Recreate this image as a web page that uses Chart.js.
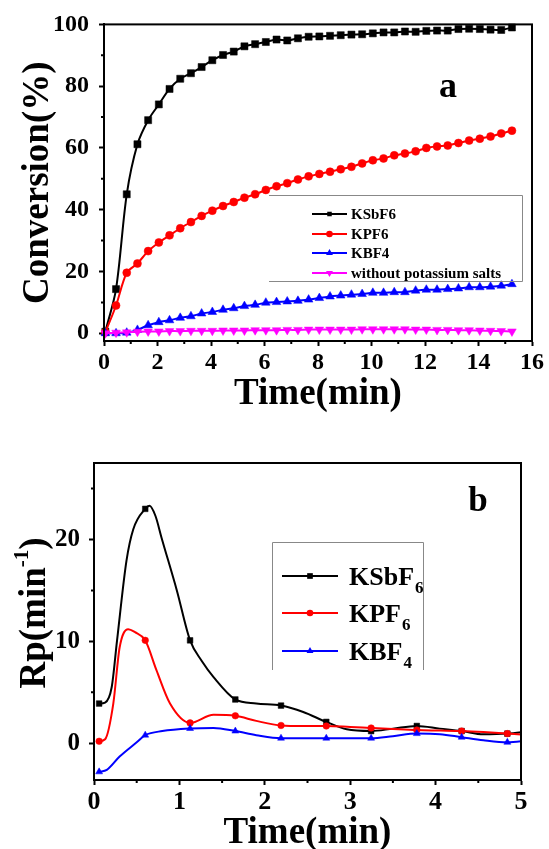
<!DOCTYPE html>
<html>
<head>
<meta charset="utf-8">
<script src="https://cdn.jsdelivr.net/npm/chart.js@4.4.1/dist/chart.umd.min.js"></script>
<style>
  body { margin: 0; background: #fff; }
  canvas { position: absolute; left: 0; }
  #graficoA { top: 0; }
  #graficoB { top: 430px; }
</style>
</head>
<body>
<canvas id="graficoA" width="549" height="430"></canvas>
<canvas id="graficoB" width="549" height="419"></canvas>
<script>
// Gráfico a: conversión (%) frente al tiempo (min)
const tiempoA = [0.05, 0.45, 0.85, 1.25, 1.65, 2.05, 2.45, 2.85, 3.25, 3.65, 4.05, 4.45, 4.85,
  5.25, 5.65, 6.05, 6.45, 6.85, 7.25, 7.65, 8.05, 8.45, 8.85, 9.25, 9.65, 10.05, 10.45, 10.85,
  11.25, 11.65, 12.05, 12.45, 12.85, 13.25, 13.65, 14.05, 14.45, 14.85, 15.25];
const convKSbF6 = [0.5, 14.3, 45, 61.2, 69, 74.1, 79.1, 82.4, 84.2, 86.2, 88.4, 90.1, 91.2,
  92.9, 93.6, 94.3, 95.1, 94.8, 95.5, 96, 96.1, 96.3, 96.5, 96.7, 96.8, 97.1, 97.4, 97.4,
  97.7, 97.6, 97.9, 98, 98, 98.5, 98.6, 98.5, 98.3, 98.2, 99.0];
const convKPF6 = [0.3, 9, 19.6, 22.6, 26.6, 29.4, 31.7, 34, 36, 38, 39.7, 41.2, 42.5,
  43.9, 45, 46.4, 47.6, 48.6, 49.8, 50.8, 51.6, 52.3, 53.1, 53.9, 55, 56, 56.6, 57.6,
  58.2, 58.9, 60, 60.5, 60.8, 61.6, 62.4, 63, 63.7, 64.7, 65.6];
const convKBF4 = [0, 0, 0.2, 1.1, 2.6, 3.6, 4.2, 5.0, 5.5, 6.4, 6.9, 7.6, 8.1,
  8.8, 9.2, 9.9, 10.1, 10.3, 10.5, 10.9, 11.4, 11.9, 12.2, 12.5, 12.7, 13.1, 13.1, 13.3,
  13.3, 13.8, 14.1, 14.1, 14.3, 14.5, 14.9, 14.9, 15.1, 15.4, 15.9];
const convSinSal = [0, 0.2, 0.3, 0.5, 0.6, 0.6, 0.7, 0.7, 0.8, 0.8, 0.8, 0.9, 0.9,
  0.9, 1.0, 1.0, 1.0, 1.1, 1.1, 1.2, 1.2, 1.2, 1.2, 1.2, 1.3, 1.3, 1.3, 1.3,
  1.3, 1.2, 1.2, 1.1, 1.1, 1.0, 1.0, 0.9, 0.8, 0.7, 0.6];
const ticksXA = [0, 2, 4, 6, 8, 10, 12, 14, 16];
const ticksYA = [0, 20, 40, 60, 80, 100];
const menoresXA = [1, 3, 5, 7, 9, 11, 13, 15];
const menoresYA = [10, 30, 50, 70, 90];
const leyendaA = ['KSbF6', 'KPF6', 'KBF4', 'without potassium salts'];

// Gráfico b: Rp (min-1) frente al tiempo (min), puntos medidos
const tiempoB = [0.06, 0.6, 1.125, 1.655, 2.19, 2.72, 3.245, 3.78, 4.305, 4.84];
const rpKSbF6 = [3.9, 23.0, 10.1, 4.3, 3.7, 2.1, 1.2, 1.7, 1.2, 0.95];
const rpKPF6 = [0.2, 10.1, 2.0, 2.7, 1.75, 1.7, 1.5, 1.3, 1.2, 0.95];
const rpKBF4 = [-2.8, 0.8, 1.45, 1.2, 0.5, 0.5, 0.5, 0.95, 0.6, 0.1];
// trazado de las curvas suavizadas
const curvaTKSbF6 = [0.06, 0.13, 0.207, 0.27, 0.38, 0.46, 0.6, 0.65, 0.72, 0.79, 0.97, 1.125, 1.26, 1.4,
  1.655, 1.9, 2.19, 2.45, 2.72, 2.96, 3.245, 3.5, 3.78, 4.05, 4.305, 4.56, 4.84, 5.1];
const curvaKSbF6 = [3.9, 4.0, 5.5, 10.1, 17.9, 21, 23.0, 23.3, 22.3, 20.2, 15, 10.1, 8.1, 6.5,
  4.3, 3.9, 3.7, 3.07, 2.1, 1.37, 1.2, 1.44, 1.7, 1.44, 1.2, 0.88, 0.95, 1.2];
const curvaTKPF6 = [0.06, 0.13, 0.226, 0.3, 0.4, 0.48, 0.6, 0.73, 0.89, 1.125, 1.4, 1.655, 1.9,
  2.19, 2.45, 2.72, 3.0, 3.245, 3.5, 3.78, 4.05, 4.305, 4.56, 4.84, 5.1];
const curvaKPF6 = [0.2, 0.4, 3.9, 9.4, 11.2, 10.9, 10.1, 7.2, 3.9, 2.0, 2.8, 2.7, 2.2,
  1.75, 1.7, 1.7, 1.6, 1.5, 1.4, 1.3, 1.25, 1.2, 1.1, 0.95, 0.8];
const curvaTKBF4 = [0.06, 0.15, 0.3, 0.5, 0.6, 0.8, 1.125, 1.4, 1.655, 1.9, 2.19, 2.45, 2.72,
  3.0, 3.245, 3.5, 3.78, 4.05, 4.305, 4.56, 4.84, 5.1];
const curvaKBF4 = [-2.8, -2.6, -1.3, 0.1, 0.8, 1.2, 1.45, 1.5, 1.2, 0.8, 0.5, 0.5, 0.5,
  0.5, 0.5, 0.7, 0.95, 0.9, 0.6, 0.3, 0.1, 0.3];
const ticksXB = [0, 1, 2, 3, 4, 5];
const ticksYB = [0, 10, 20];
const menoresXB = [0.5, 1.5, 2.5, 3.5, 4.5];
const menoresYB = [5, 15, 25];
const leyendaB = [['KSbF', '6'], ['KPF', '6'], ['KBF', '4']];

const serif = "'Liberation Serif', 'Times New Roman', serif";
const puntos = (xs, ys) => xs.map((x, i) => ({ x: x, y: ys[i] }));

function marca(ctx, tipo, x, y, r, color) {
  ctx.fillStyle = color;
  ctx.beginPath();
  if (tipo === 'rect') {
    const s = r * Math.SQRT1_2;
    ctx.rect(x - s, y - s, 2 * s, 2 * s);
  } else if (tipo === 'circle') {
    ctx.arc(x, y, r, 0, Math.PI * 2);
  } else if (tipo === 'triangle') {
    ctx.moveTo(x, y - r); ctx.lineTo(x + r * 0.866, y + r / 2); ctx.lineTo(x - r * 0.866, y + r / 2);
  } else {
    ctx.moveTo(x, y + r); ctx.lineTo(x + r * 0.866, y - r / 2); ctx.lineTo(x - r * 0.866, y - r / 2);
  }
  ctx.closePath();
  ctx.fill();
}

// marco, marcas menores y textos extra
const decorado = {
  id: 'decorado',
  afterDraw(chart, args, op) {
    const ctx = chart.ctx;
    const a = chart.chartArea;
    const sx = chart.scales.x, sy = chart.scales.y;
    ctx.save();
    ctx.strokeStyle = '#000';
    ctx.lineWidth = 2;
    ctx.strokeRect(a.left, a.top, a.right - a.left, a.bottom - a.top);
    ctx.beginPath();
    op.menoresX.forEach(v => { const p = sx.getPixelForValue(v); ctx.moveTo(p, a.bottom); ctx.lineTo(p, a.bottom + 3); });
    op.menoresY.forEach(v => { const p = sy.getPixelForValue(v); ctx.moveTo(a.left - 3, p); ctx.lineTo(a.left, p); });
    ctx.stroke();
    op.dibujar(ctx);
    ctx.restore();
  }
};

const escala = (min, max, mayores, fuente, pad) => ({
  type: 'linear', min: min, max: max,
  afterBuildTicks: s => { s.ticks = mayores.map(v => ({ value: v })); },
  ticks: { autoSkip: false, maxRotation: 0, padding: pad, color: '#000', font: { family: serif, weight: 'bold', size: fuente } },
  grid: { drawOnChartArea: false, tickLength: 5, tickWidth: 2, color: '#000' },
  border: { color: '#000', width: 2 }
});

// ---------- gráfico a ----------
const ejeXA = escala(0, 16, ticksXA, 24, 2);
ejeXA.afterFit = s => { s.height = 89; };
ejeXA.title = { display: true, text: 'Time(min)', color: '#000', font: { family: serif, weight: 'bold', size: 37, lineHeight: 1 }, padding: { top: 0, bottom: 17.5 } };
const ejeYA = escala(-2.5, 100, ticksYA, 24, 10);
ejeYA.afterFit = s => { s.width = 104; };
ejeYA.title = { display: true, text: 'Conversion(%)', color: '#000', font: { family: serif, weight: 'bold', size: 37, lineHeight: 1 }, padding: { top: 19.5, bottom: 0 } };

const seriesA = [
  { label: leyendaA[0], valores: convKSbF6, color: '#000000', estilo: 'rect', r: 5, rot: 0, orden: 4 },
  { label: leyendaA[1], valores: convKPF6, color: '#ff0000', estilo: 'circle', r: 4, rot: 0, orden: 3 },
  { label: leyendaA[2], valores: convKBF4, color: '#0000ff', estilo: 'triangle', r: 5, rot: 0, orden: 2 },
  { label: leyendaA[3], valores: convSinSal, color: '#ff00ff', estilo: 'triangle', r: 5, rot: 180, orden: 1 }
];

new Chart(document.getElementById('graficoA'), {
  type: 'line',
  data: {
    datasets: seriesA.map(s => ({
      label: s.label, data: puntos(tiempoA, s.valores), borderColor: s.color, backgroundColor: s.color,
      pointStyle: s.estilo, pointRadius: s.r, pointRotation: s.rot, pointBorderWidth: 0.5,
      borderWidth: 2, tension: 0.3, order: s.orden, clip: false
    }))
  },
  options: {
    responsive: false, animation: false, devicePixelRatio: 1,
    layout: { padding: { top: 21, right: 17, left: 0, bottom: 0 } },
    plugins: {
      legend: { display: false }, tooltip: { enabled: false },
      decorado: {
        menoresX: menoresXA, menoresY: menoresYA,
        dibujar(ctx) {
          // caja de la leyenda
          ctx.strokeStyle = '#888';
          ctx.lineWidth = 1;
          ctx.beginPath();
          ctx.moveTo(269, 195.5); ctx.lineTo(522.5, 195.5); ctx.lineTo(522.5, 281.5); ctx.lineTo(269, 281.5);
          ctx.stroke();
          const filas = [214, 234, 253, 273];
          const radios = [3.2, 3.3, 4, 4];
          seriesA.forEach((s, i) => {
            ctx.strokeStyle = s.color; ctx.lineWidth = 2;
            ctx.beginPath(); ctx.moveTo(312, filas[i]); ctx.lineTo(347, filas[i]); ctx.stroke();
            marca(ctx, s.rot ? 'down' : s.estilo, 329.5, filas[i], radios[i], s.color);
            ctx.fillStyle = '#000';
            ctx.font = 'bold 15px ' + serif;
            ctx.textBaseline = 'middle';
            ctx.textAlign = 'left';
            ctx.fillText(s.label, 351, filas[i] + 1);
          });
          ctx.font = 'bold 36px ' + serif;
          ctx.textBaseline = 'alphabetic';
          ctx.textAlign = 'center';
          ctx.fillText('a', 448, 97);
        }
      }
    },
    scales: { x: ejeXA, y: ejeYA }
  },
  plugins: [decorado]
});

// ---------- gráfico b ----------
const ejeXB = escala(0, 5, ticksXB, 26, 1.5);
ejeXB.afterFit = s => { s.height = 69; };
ejeXB.title = { display: true, text: 'Time(min)', color: '#000', font: { family: serif, weight: 'bold', size: 37, lineHeight: 0.85 }, padding: { top: 0, bottom: 0 } };
const ejeYB = escala(-3.6, 27.5, ticksYB, 25, 9);
ejeYB.afterFit = s => { s.width = 94; };

const seriesB = [
  { label: 'KSbF6', t: curvaTKSbF6, curva: curvaKSbF6, valores: rpKSbF6, color: '#000000', estilo: 'rect', r: 4 },
  { label: 'KPF6', t: curvaTKPF6, curva: curvaKPF6, valores: rpKPF6, color: '#ff0000', estilo: 'circle', r: 3.3 },
  { label: 'KBF4', t: curvaTKBF4, curva: curvaKBF4, valores: rpKBF4, color: '#0000ff', estilo: 'triangle', r: 4 }
];
const datosB = [];
seriesB.forEach((s, i) => {
  datosB.push({ label: s.label, data: puntos(s.t, s.curva), borderColor: s.color, borderWidth: 2,
    pointRadius: 0, cubicInterpolationMode: 'monotone', order: 6 - i });
  datosB.push({ label: s.label + ' puntos', data: puntos(tiempoB, s.valores), showLine: false,
    borderColor: s.color, backgroundColor: s.color, pointStyle: s.estilo, pointRadius: s.r,
    pointBorderWidth: 0.5, order: 6 - i });
});

new Chart(document.getElementById('graficoB'), {
  type: 'line',
  data: { datasets: datosB },
  options: {
    responsive: false, animation: false, devicePixelRatio: 1,
    layout: { padding: { top: 33, right: 28, left: 0, bottom: 0 } },
    plugins: {
      legend: { display: false }, tooltip: { enabled: false },
      decorado: {
        menoresX: menoresXB, menoresY: menoresYB,
        dibujar(ctx) {
          ctx.strokeStyle = '#888';
          ctx.lineWidth = 1;
          ctx.beginPath();
          ctx.moveTo(272.5, 240); ctx.lineTo(272.5, 112.5); ctx.lineTo(423.5, 112.5); ctx.lineTo(423.5, 240);
          ctx.stroke();
          const filas = [146, 183, 221];
          seriesB.forEach((s, i) => {
            ctx.strokeStyle = s.color; ctx.lineWidth = 2;
            ctx.beginPath(); ctx.moveTo(282, filas[i]); ctx.lineTo(338, filas[i]); ctx.stroke();
            marca(ctx, s.estilo, 310, filas[i], s.r, s.color);
            ctx.fillStyle = '#000';
            ctx.textAlign = 'left';
            ctx.textBaseline = 'alphabetic';
            ctx.font = 'bold 26px ' + serif;
            const base = filas[i] + 9;
            ctx.fillText(leyendaB[i][0], 349, base);
            const w = ctx.measureText(leyendaB[i][0]).width;
            ctx.font = 'bold 17px ' + serif;
            ctx.fillText(leyendaB[i][1], 349 + w + 1, base + 8);
          });
          ctx.font = 'bold 35px ' + serif;
          ctx.textAlign = 'center';
          ctx.fillText('b', 478, 81);
          // título del eje y con superíndice
          ctx.save();
          ctx.translate(45, 183);
          ctx.rotate(-Math.PI / 2);
          ctx.textAlign = 'left';
          ctx.font = 'bold 37px ' + serif;
          const w1 = ctx.measureText('Rp(min').width;
          const w3 = ctx.measureText(')').width;
          ctx.font = 'bold 21px ' + serif;
          const w2 = ctx.measureText('-1').width;
          let x0 = -(w1 + w2 + w3) / 2;
          ctx.font = 'bold 37px ' + serif;
          ctx.fillText('Rp(min', x0, 0);
          ctx.font = 'bold 21px ' + serif;
          ctx.fillText('-1', x0 + w1, -17);
          ctx.font = 'bold 37px ' + serif;
          ctx.fillText(')', x0 + w1 + w2, 0);
          ctx.restore();
        }
      }
    },
    scales: { x: ejeXB, y: ejeYB }
  },
  plugins: [decorado]
});
</script>
</body>
</html>
